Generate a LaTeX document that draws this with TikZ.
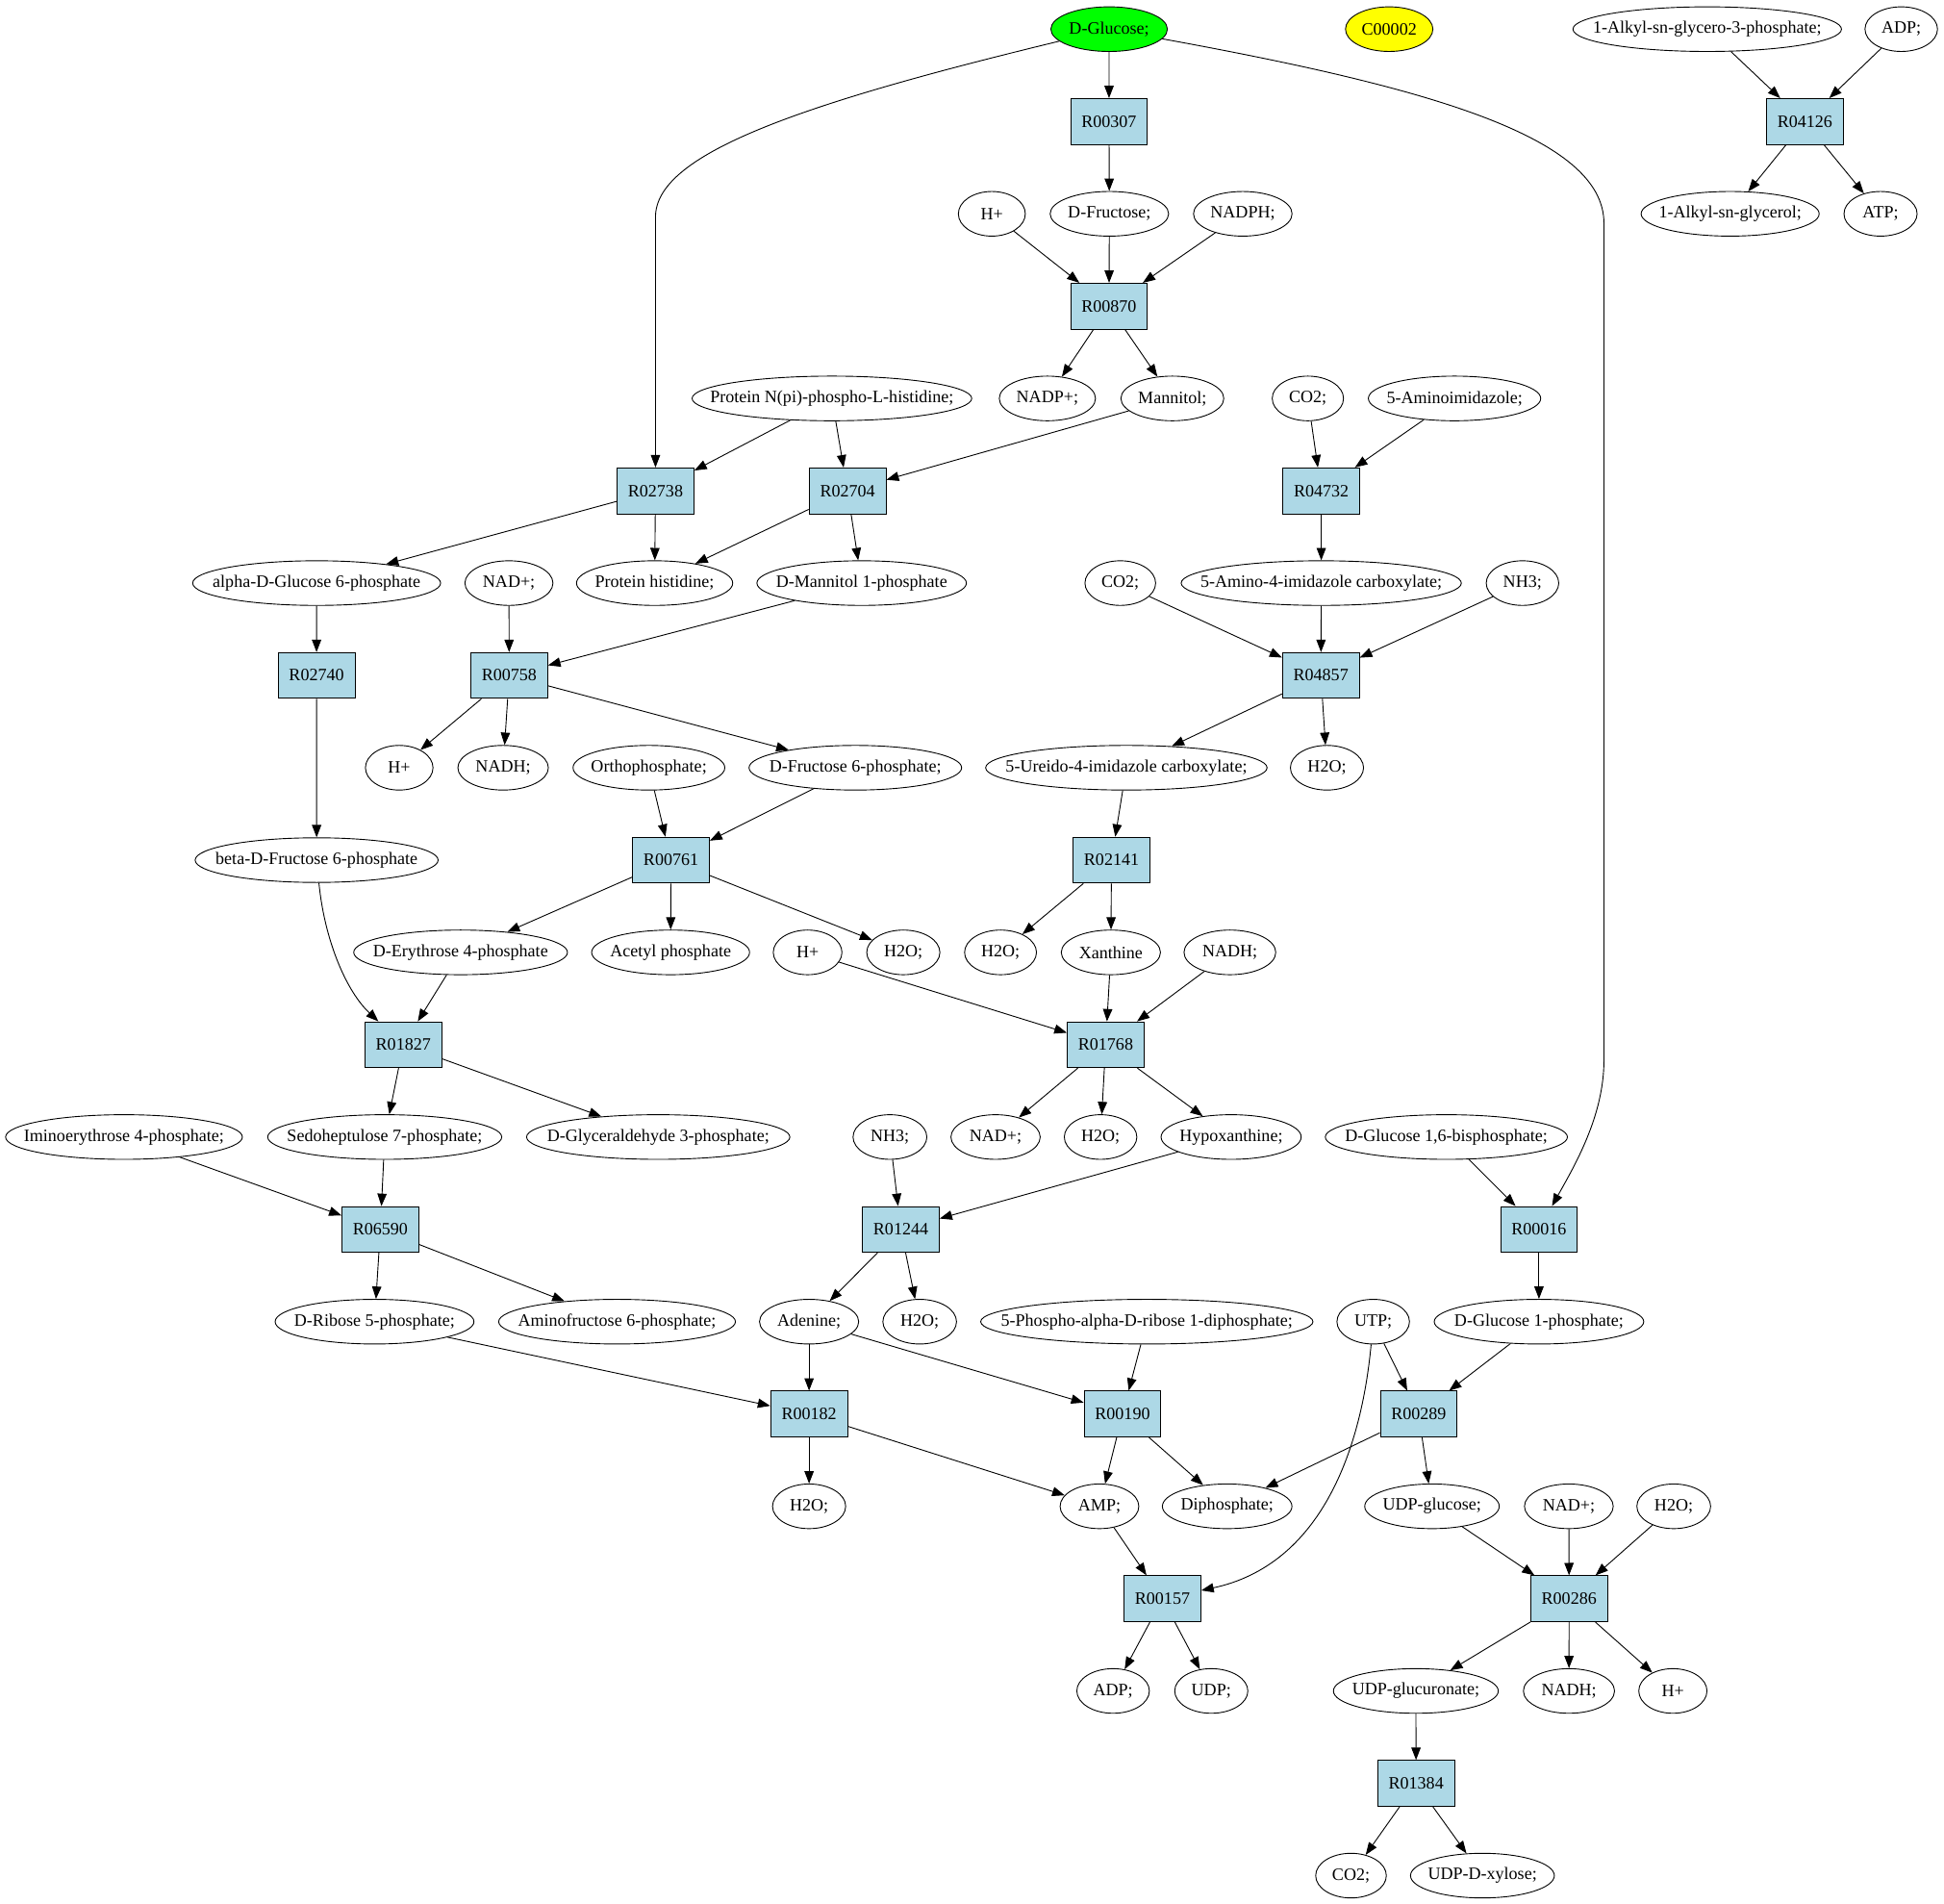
\documentclass[tikz,border=0pt]{standalone}
\usepackage{fontspec}
\setmainfont{Liberation Serif}
\usetikzlibrary{arrows.meta, shapes.geometric}
\definecolor{rxnBlue}{HTML}{ADD8E6}
\definecolor{srcGreen}{HTML}{00FF00}
\definecolor{tagYellow}{HTML}{FFFF00}

\tikzset{
  cpd/.style={ellipse, draw, minimum width=#1pt, minimum height=36pt, inner sep=0pt,
    execute at begin node={\hbox to 0pt\bgroup\hss}, execute at end node={\hss\egroup}},
  rxn/.style={rectangle, draw, fill=rxnBlue, minimum width=62pt, minimum height=37pt, inner sep=0pt}
}

\begin{document}
\begin{tikzpicture}[x=1pt, y=-1pt, >={Triangle[length=10pt, width=7.5pt]}, line width=0.7pt, font=\fontsize{14}{16}\selectfont]
    \path[use as bounding box, fill=white] (0,0) rectangle (1568,1535);

    % Rank 0
    \node[cpd=94, fill=srcGreen] (glc) at (894.6,23.5) {D-Glucose;};
    \node[cpd=70.5, fill=tagYellow] (c00002) at (1120.5,23.5) {C00002};
    \node[cpd=216.6] (akg3p) at (1377,23.5) {1-Alkyl-sn-glycero-3-phosphate;};
    \node[cpd=58.5] (adpA) at (1533.5,23.5) {ADP;};
    \node[rxn] (r00307) at (894.5,98) {R00307};
    \node[rxn] (r04126) at (1455.8,98) {R04126};

    % Rank 2-3
    \node[cpd=54] (hA) at (800,172.4) {H+};
    \node[cpd=95.6] (fru) at (894.8,172.4) {D-Fructose;};
    \node[cpd=79.5] (nadph) at (1002.4,172.4) {NADPH;};
    \node[cpd=143.6] (akg) at (1395.5,172.4) {1-Alkyl-sn-glycerol;};
    \node[cpd=59] (atp) at (1516.8,172.4) {ATP;};
    \node[rxn] (r00870) at (894.5,246.9) {R00870};

    % Rank 4-5
    \node[cpd=225.6] (pnh) at (671,321.3) {Protein N(pi)-phospho-L-histidine;};
    \node[cpd=77.6] (nadpp) at (844.8,321.3) {NADP+;};
    \node[cpd=83] (mtl) at (945.6,321.3) {Mannitol;};
    \node[cpd=57.5] (co2A) at (1054.9,321.3) {CO2;};
    \node[cpd=139] (aim) at (1173.2,321.3) {5-Aminoimidazole;};
    \node[rxn] (r02738) at (528.7,395.8) {R02738};
    \node[rxn] (r02704) at (683.6,395.8) {R02704};
    \node[rxn] (r04732) at (1065.7,395.8) {R04732};

    % Rank 6-7
    \node[cpd=200] (ag6p) at (255.4,470.2) {alpha-D-Glucose 6-phosphate};
    \node[cpd=71] (nadA) at (410.5,470.2) {NAD+;};
    \node[cpd=126] (phis) at (528,470.2) {Protein histidine;};
    \node[cpd=169] (m1p) at (695,470.2) {D-Mannitol 1-phosphate};
    \node[cpd=57] (co2B) at (903.6,470.2) {CO2;};
    \node[cpd=226] (aica) at (1065.7,470.2) {5-Amino-4-imidazole carboxylate;};
    \node[cpd=58.5] (nh3A) at (1228,470.2) {NH3;};
    \node[rxn] (r02740) at (255.3,544.7) {R02740};
    \node[rxn] (r00758) at (410.7,544.7) {R00758};
    \node[rxn] (r04857) at (1065.4,544.7) {R04857};

    % Rank 8-9
    \node[cpd=54.5] (hB) at (322,619.1) {H+};
    \node[cpd=73] (nadhA) at (405.8,619.1) {NADH;};
    \node[cpd=122.4] (pi) at (523.4,619.1) {Orthophosphate;};
    \node[cpd=171.5] (f6p) at (689.9,619.1) {D-Fructose 6-phosphate;};
    \node[cpd=227] (uaic) at (908.5,619.1) {5-Ureido-4-imidazole carboxylate;};
    \node[cpd=59] (h2oA) at (1070.3,619.1) {H2O;};
    \node[cpd=196] (bf6p) at (255.4,693.6) {beta-D-Fructose 6-phosphate};
    \node[rxn] (r00761) at (541.2,693.6) {R00761};
    \node[rxn] (r02141) at (896.5,693.6) {R02141};

    % Rank 10-11
    \node[cpd=172.4] (e4p) at (371.5,768) {D-Erythrose 4-phosphate};
    \node[cpd=127.4] (acp) at (540.9,768) {Acetyl phosphate};
    \node[cpd=55.4] (hC) at (651.4,768) {H+};
    \node[cpd=59] (h2oB) at (728.6,768) {H2O;};
    \node[cpd=58] (h2oC) at (807,768) {H2O;};
    \node[cpd=80] (xan) at (896,768) {Xanthine};
    \node[cpd=74] (nadhB) at (992,768) {NADH;};
    \node[rxn] (r01827) at (325.3,842.5) {R01827};
    \node[rxn] (r01768) at (891.8,842.5) {R01768};

    % Rank 12-13
    \node[cpd=191] (ie4p) at (100,916.9) {Iminoerythrose 4-phosphate;};
    \node[cpd=188.8] (s7p) at (310.3,916.9) {Sedoheptulose 7-phosphate;};
    \node[cpd=212.4] (gap) at (530.9,916.9) {D-Glyceraldehyde 3-phosphate;};
    \node[cpd=59.5] (nh3B) at (717.8,916.9) {NH3;};
    \node[cpd=72] (nadB) at (803,916.9) {NAD+;};
    \node[cpd=58.5] (h2oD) at (887.7,916.9) {H2O;};
    \node[cpd=113] (hyp) at (993,916.9) {Hypoxanthine;};
    \node[cpd=195.3] (g16bp) at (1166.6,916.9) {D-Glucose 1,6-bisphosphate;};
    \node[rxn] (r06590) at (306.8,991.4) {R06590};
    \node[rxn] (r01244) at (726.6,991.4) {R01244};
    \node[rxn] (r00016) at (1241.3,991.4) {R00016};

    % Rank 14-15
    \node[cpd=160.4] (r5p) at (302.1,1065.8) {D-Ribose 5-phosphate;};
    \node[cpd=191] (af6p) at (497.7,1065.8) {Aminofructose 6-phosphate;};
    \node[cpd=80] (ade) at (652.6,1065.8) {Adenine;};
    \node[cpd=59.4] (h2oE) at (741.8,1065.8) {H2O;};
    \node[cpd=268] (prpp) at (925,1065.8) {5-Phospho-alpha-D-ribose 1-diphosphate;};
    \node[cpd=58.5] (utp) at (1107.6,1065.8) {UTP;};
    \node[cpd=169] (g1p) at (1241.3,1065.8) {D-Glucose 1-phosphate;};
    \node[rxn] (r00182) at (652.6,1140.3) {R00182};
    \node[rxn] (r00190) at (905.4,1140.3) {R00190};
    \node[rxn] (r00289) at (1144.3,1140.3) {R00289};

    % Rank 16-17
    \node[cpd=59] (h2oF) at (652.6,1214.7) {H2O;};
    \node[cpd=63.5] (amp) at (886.8,1214.7) {AMP;};
    \node[cpd=104.5] (ppi) at (989.8,1214.7) {Diphosphate;};
    \node[cpd=108.5] (udpg) at (1155,1214.7) {UDP-glucose;};
    \node[cpd=71.6] (nadC) at (1265.4,1214.7) {NAD+;};
    \node[cpd=59.5] (h2oG) at (1350,1214.7) {H2O;};
    \node[rxn] (r00157) at (937.6,1289.2) {R00157};
    \node[rxn] (r00286) at (1265.6,1289.2) {R00286};

    % Rank 18-20
    \node[cpd=58.5] (adpB) at (897.8,1363.6) {ADP;};
    \node[cpd=59] (udp) at (977,1363.6) {UDP;};
    \node[cpd=133] (udpga) at (1142,1363.6) {UDP-glucuronate;};
    \node[cpd=73.5] (nadhC) at (1265.5,1363.6) {NADH;};
    \node[cpd=55] (hD) at (1349.3,1363.6) {H+};
    \node[rxn] (r01384) at (1142.2,1438.1) {R01384};
    \node[cpd=57] (co2C) at (1089.7,1512.5) {CO2;};
    \node[cpd=116] (udpx) at (1195.7,1512.5) {UDP-D-xylose;};

    % Long edges
    \draw[->] (glc) .. controls (640,85) and (528.7,125) .. (528.7,175) -- (r02738);
    \draw[->] (glc) .. controls (1150,70) and (1293.7,110) .. (1293.7,180) -- (1293.7,855)
        .. controls (1293.7,900) and (1270,940) .. (r00016);
    \draw[->] (bf6p) .. controls (262,760) and (280,800) .. (r01827);
    \draw[->] (utp) .. controls (1098,1170) and (1065,1262) .. (r00157);

    % Edges
    \draw[->] (glc) -- (r00307);
    \draw[->] (r00307) -- (fru);
    \draw[->] (hA) -- (r00870);
    \draw[->] (fru) -- (r00870);
    \draw[->] (nadph) -- (r00870);
    \draw[->] (r00870) -- (nadpp);
    \draw[->] (r00870) -- (mtl);
    \draw[->] (akg3p) -- (r04126);
    \draw[->] (adpA) -- (r04126);
    \draw[->] (r04126) -- (akg);
    \draw[->] (r04126) -- (atp);
    \draw[->] (pnh) -- (r02738);
    \draw[->] (pnh) -- (r02704);
    \draw[->] (mtl) -- (r02704);
    \draw[->] (co2A) -- (r04732);
    \draw[->] (aim) -- (r04732);
    \draw[->] (r02738) -- (ag6p);
    \draw[->] (r02738) -- (phis);
    \draw[->] (r02704) -- (phis);
    \draw[->] (r02704) -- (m1p);
    \draw[->] (r04732) -- (aica);
    \draw[->] (ag6p) -- (r02740);
    \draw[->] (nadA) -- (r00758);
    \draw[->] (m1p) -- (r00758);
    \draw[->] (co2B) -- (r04857);
    \draw[->] (aica) -- (r04857);
    \draw[->] (nh3A) -- (r04857);
    \draw[->] (r00758) -- (hB);
    \draw[->] (r00758) -- (nadhA);
    \draw[->] (r00758) -- (f6p);
    \draw[->] (r04857) -- (uaic);
    \draw[->] (r04857) -- (h2oA);
    \draw[->] (r02740) -- (bf6p);
    \draw[->] (pi) -- (r00761);
    \draw[->] (f6p) -- (r00761);
    \draw[->] (uaic) -- (r02141);
    \draw[->] (r00761) -- (e4p);
    \draw[->] (r00761) -- (acp);
    \draw[->] (r00761) -- (h2oB);
    \draw[->] (r02141) -- (h2oC);
    \draw[->] (r02141) -- (xan);
    \draw[->] (e4p) -- (r01827);
    \draw[->] (hC) -- (r01768);
    \draw[->] (xan) -- (r01768);
    \draw[->] (nadhB) -- (r01768);
    \draw[->] (r01827) -- (s7p);
    \draw[->] (r01827) -- (gap);
    \draw[->] (r01768) -- (nadB);
    \draw[->] (r01768) -- (h2oD);
    \draw[->] (r01768) -- (hyp);
    \draw[->] (ie4p) -- (r06590);
    \draw[->] (s7p) -- (r06590);
    \draw[->] (nh3B) -- (r01244);
    \draw[->] (hyp) -- (r01244);
    \draw[->] (g16bp) -- (r00016);
    \draw[->] (r06590) -- (r5p);
    \draw[->] (r06590) -- (af6p);
    \draw[->] (r01244) -- (ade);
    \draw[->] (r01244) -- (h2oE);
    \draw[->] (r00016) -- (g1p);
    \draw[->] (r5p) -- (r00182);
    \draw[->] (ade) -- (r00182);
    \draw[->] (ade) -- (r00190);
    \draw[->] (prpp) -- (r00190);
    \draw[->] (utp) -- (r00289);
    \draw[->] (g1p) -- (r00289);
    \draw[->] (r00182) -- (h2oF);
    \draw[->] (r00182) -- (amp);
    \draw[->] (r00190) -- (amp);
    \draw[->] (r00190) -- (ppi);
    \draw[->] (r00289) -- (ppi);
    \draw[->] (r00289) -- (udpg);
    \draw[->] (udpg) -- (r00286);
    \draw[->] (nadC) -- (r00286);
    \draw[->] (h2oG) -- (r00286);
    \draw[->] (amp) -- (r00157);
    \draw[->] (r00157) -- (adpB);
    \draw[->] (r00157) -- (udp);
    \draw[->] (r00286) -- (udpga);
    \draw[->] (r00286) -- (nadhC);
    \draw[->] (r00286) -- (hD);
    \draw[->] (udpga) -- (r01384);
    \draw[->] (r01384) -- (co2C);
    \draw[->] (r01384) -- (udpx);
\end{tikzpicture}
\end{document}
